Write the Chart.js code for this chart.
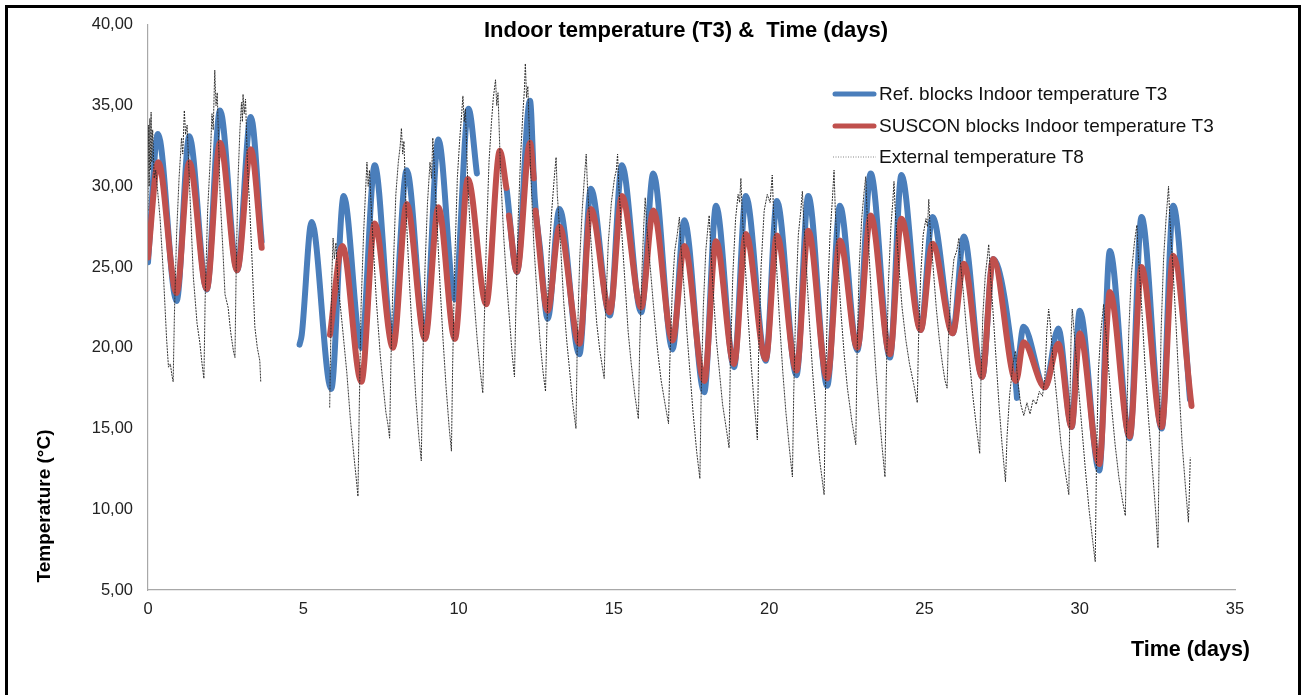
<!DOCTYPE html>
<html>
<head>
<meta charset="utf-8">
<script src="https://cdn.jsdelivr.net/npm/chart.js@4.4.1/dist/chart.umd.min.js"></script>
<style>
  html, body { margin: 0; padding: 0; background: #fff; overflow: hidden; }
  #frame { position: absolute; left: 5px; top: 5px; width: 1290px; height: 800px; border: 3px solid #000; box-sizing: content-box; }
  #c { position: absolute; left: 0; top: 0; }
</style>
</head>
<body>
<div id="frame"></div>
<canvas id="c" width="1303" height="695"></canvas>
<script>
// ---------- DATA (days, °C) ----------
const chartTitle = "Indoor temperature (T3) &  Time (days)";
const xTitle = "Time (days)";
const yTitle = "Temperature (°C)";
const seriesNames = ["Ref. blocks Indoor temperature T3", "SUSCON blocks Indoor temperature T3", "External temperature T8"];
const xTicks = [0, 5, 10, 15, 20, 25, 30, 35];
const yTicks = [5, 10, 15, 20, 25, 30, 35, 40];

// Ref. blocks indoor temperature T3 (blue) [day, temp]; null = gap
const refT3 = [
  [0.00,25.3],[0.32,33.25],[0.92,22.9],[1.33,33.1],[1.89,23.6],[2.32,34.7],[2.87,24.8],[3.31,34.3],[3.66,26.6],[4.20,null],
  [4.88,20.2],[4.95,20.8],[5.27,27.8],[5.90,17.45],[6.30,29.4],[6.87,20.0],[7.30,31.3],[7.87,20.4],[8.33,31.0],[8.92,20.6],
  [9.35,32.9],[9.88,23.0],[10.32,34.8],[10.59,30.8],[11.00,null],[11.55,29.8],[11.88,24.7],[12.30,35.3],[12.45,29.3],[12.62,26.2],
  [12.87,21.8],[13.25,28.6],[13.89,19.6],[14.26,29.85],[14.87,22.0],[15.26,31.3],[15.88,22.2],[16.27,30.8],[16.89,19.9],
  [17.27,27.9],[17.91,17.25],[18.29,28.8],[18.87,18.8],[19.25,29.4],[19.89,19.2],[20.25,29.1],[20.88,18.3],[21.26,29.4],
  [21.87,17.65],[22.28,28.8],[22.84,19.85],[23.27,30.8],[23.89,19.4],[24.26,30.7],[24.88,21.1],[25.26,28.1],[25.91,20.9],
  [26.27,26.9],[26.86,18.2],[27.21,25.5],[27.93,18.0],[27.98,16.9],[28.00,null],[28.03,19.3],[28.19,21.3],[28.88,17.55],
  [29.31,21.2],[29.74,15.1],[30.00,22.3],[30.63,12.4],[30.97,26.0],[31.61,14.4],[31.99,28.1],[32.64,15.0],[33.01,28.8],[33.55,16.8]
];

// SUSCON blocks indoor temperature T3 (red)
const susconT3 = [
  [0.00,25.6],[0.33,31.5],[0.92,23.4],[1.33,31.5],[1.89,23.65],[2.32,32.7],[2.87,24.8],[3.31,32.3],[3.66,26.2],[4.50,null],
  [5.86,20.8],[6.26,26.3],[6.87,17.9],[7.30,27.7],[7.89,20.0],[8.33,28.9],[8.92,20.55],[9.35,28.7],[9.88,20.55],[10.30,30.45],
  [10.89,22.7],[11.33,32.2],[11.54,29.9],[11.58,null],[11.62,28.2],[11.88,24.7],[12.30,32.7],[12.42,30.5],[12.45,null],[12.48,28.5],
  [12.87,22.3],[13.25,27.5],[13.89,20.25],[14.26,28.6],[14.87,22.2],[15.26,29.4],[15.88,22.5],[16.27,28.5],[16.89,20.45],
  [17.27,26.3],[17.91,17.95],[18.29,26.6],[18.87,19.0],[19.25,27.05],[19.89,19.3],[20.25,26.95],[20.88,18.6],[21.26,27.25],
  [21.87,18.1],[22.28,26.65],[22.84,20.0],[23.27,28.2],[23.89,19.6],[24.26,28.0],[24.88,21.1],[25.26,26.45],[25.91,20.9],
  [26.27,25.2],[26.86,18.2],[27.21,25.5],[27.95,17.95],[28.19,20.35],[28.88,17.55],[29.31,20.25],[29.74,15.1],[30.00,20.9],
  [30.63,12.8],[30.97,23.45],[31.61,14.5],[31.99,25.0],[32.64,15.1],[33.01,25.7],[33.60,16.4]
];

// External temperature T8 (thin dotted)
const externalT8 = [
  [0.00,28.5],[0.02,33.8],[0.04,30.0],[0.06,34.2],[0.08,31.0],[0.10,34.6],[0.12,31.5],[0.15,33.5],[0.20,30.5],[0.25,31.0],
  [0.39,28.0],[0.50,24.4],[0.60,20.5],[0.66,18.8],[0.72,19.0],[0.77,18.3],[0.81,17.9],
  [0.85,22.0],[0.92,27.0],[1.00,30.5],[1.08,33.0],[1.12,32.0],[1.17,34.7],[1.21,33.2],[1.26,33.8],
  [1.35,29.5],[1.46,24.4],[1.58,21.5],[1.67,20.3],[1.74,19.0],[1.80,18.1],
  [1.84,23.0],[1.92,28.5],[2.00,31.5],[2.06,34.5],[2.10,33.5],[2.15,37.2],[2.19,35.0],[2.23,35.8],
  [2.32,29.5],[2.40,26.5],[2.48,23.3],[2.58,22.5],[2.66,21.0],[2.75,19.8],[2.80,19.4],
  [2.84,25.0],[2.90,30.5],[2.96,33.5],[3.01,35.2],[3.04,34.0],[3.06,35.7],[3.10,34.5],[3.14,35.4],
  [3.20,31.5],[3.28,28.5],[3.36,25.0],[3.44,21.3],[3.52,20.0],[3.60,19.2],[3.63,17.9],[4.50,null],
  [5.85,16.3],[5.88,20.0],[5.92,24.5],[5.96,26.8],[6.00,25.5],[6.05,26.5],[6.12,24.0],
  [6.25,21.5],[6.40,18.5],[6.52,15.5],[6.62,13.5],[6.70,12.0],[6.76,10.8],
  [6.80,16.0],[6.86,22.5],[6.94,27.0],[7.00,29.5],[7.05,31.5],[7.09,30.0],[7.13,31.0],
  [7.22,27.5],[7.35,23.0],[7.48,19.5],[7.58,17.5],[7.66,16.0],[7.73,15.2],[7.78,14.4],
  [7.82,19.0],[7.90,25.0],[7.98,29.5],[8.06,31.5],[8.12,32.5],[8.16,33.6],[8.20,32.0],[8.24,32.8],
  [8.32,28.0],[8.42,24.0],[8.52,20.5],[8.62,17.0],[8.72,14.5],[8.80,13.0],
  [8.84,18.5],[8.92,25.0],[9.00,29.0],[9.08,31.5],[9.13,30.5],[9.17,33.0],[9.21,31.5],
  [9.30,28.0],[9.40,24.0],[9.50,20.5],[9.60,17.5],[9.70,15.0],[9.77,13.6],
  [9.81,19.0],[9.88,25.5],[9.96,30.5],[10.04,33.0],[10.10,34.5],[10.14,35.6],[10.18,34.0],[10.22,34.8],
  [10.30,30.0],[10.40,26.5],[10.50,23.0],[10.60,20.5],[10.70,18.5],[10.78,17.2],
  [10.82,21.0],[10.90,27.0],[10.98,31.5],[11.06,34.0],[11.12,35.5],[11.19,36.6],[11.23,35.0],[11.27,35.8],
  [11.35,31.0],[11.45,27.0],[11.55,24.0],[11.65,21.5],[11.73,19.5],[11.80,18.2],
  [11.84,22.0],[11.92,28.0],[12.00,32.0],[12.07,34.5],[12.12,36.0],[12.15,37.6],[12.19,35.5],[12.23,36.2],
  [12.32,31.0],[12.42,26.5],[12.52,23.5],[12.62,20.5],[12.72,18.5],[12.80,17.3],
  [12.84,21.0],[12.92,26.0],[13.00,28.5],[13.08,30.5],[13.14,31.8],[13.18,29.5],
  [13.28,26.5],[13.38,23.0],[13.48,20.5],[13.58,18.5],[13.68,16.5],[13.78,15.0],
  [13.82,20.0],[13.90,25.5],[13.98,28.5],[14.05,30.5],[14.11,32.0],[14.15,30.0],
  [14.25,27.0],[14.35,24.0],[14.45,21.5],[14.55,19.8],[14.63,18.8],[14.69,18.1],
  [14.73,22.0],[14.82,26.5],[14.92,29.0],[15.02,30.5],[15.08,31.0],[15.12,32.0],[15.16,30.0],
  [15.26,27.0],[15.36,24.0],[15.46,21.0],[15.56,19.0],[15.68,17.0],[15.79,15.6],
  [15.83,20.0],[15.90,24.5],[15.96,27.5],[16.01,29.3],[16.06,27.5],
  [16.15,25.5],[16.28,22.5],[16.40,20.0],[16.52,18.0],[16.65,16.5],[16.76,15.3],
  [16.80,19.0],[16.88,23.5],[16.96,26.0],[17.04,27.0],[17.11,28.1],[17.15,26.5],
  [17.25,24.0],[17.35,21.0],[17.45,18.5],[17.55,16.0],[17.67,13.5],[17.77,11.9],
  [17.81,17.0],[17.88,22.5],[17.96,26.0],[18.03,27.5],[18.07,28.2],[18.11,26.5],
  [18.20,23.5],[18.30,20.5],[18.40,18.5],[18.50,16.5],[18.62,15.0],[18.71,13.8],
  [18.75,19.0],[18.83,24.5],[18.92,28.0],[19.00,29.5],[19.05,29.0],[19.09,30.5],[19.13,28.5],
  [19.22,25.5],[19.32,22.0],[19.42,19.0],[19.50,17.0],[19.57,15.5],[19.62,14.3],
  [19.66,19.5],[19.74,25.0],[19.84,28.5],[19.94,29.5],[20.03,29.0],[20.10,30.7],[20.14,28.5],
  [20.24,25.0],[20.34,21.5],[20.44,18.5],[20.54,16.0],[20.65,13.8],[20.75,12.0],
  [20.79,17.0],[20.86,23.0],[20.94,27.0],[21.02,28.5],[21.07,29.7],[21.11,28.0],
  [21.20,25.0],[21.30,21.5],[21.40,18.5],[21.50,16.0],[21.63,13.0],[21.77,10.9],
  [21.81,17.0],[21.88,23.0],[21.96,27.0],[22.03,29.0],[22.09,31.0],[22.13,28.5],
  [22.22,25.0],[22.32,22.0],[22.42,19.5],[22.52,17.5],[22.66,15.5],[22.79,14.0],
  [22.83,19.5],[22.90,25.0],[22.98,28.0],[23.05,29.5],[23.11,30.6],[23.15,28.5],
  [23.24,25.0],[23.34,21.5],[23.44,18.5],[23.54,16.0],[23.64,13.8],[23.73,12.0],
  [23.77,18.0],[23.84,24.0],[23.92,27.5],[23.98,29.0],[24.02,30.3],[24.06,28.5],
  [24.16,25.5],[24.28,22.5],[24.40,20.5],[24.52,19.0],[24.65,17.8],[24.77,16.6],
  [24.81,20.5],[24.88,24.5],[24.96,27.0],[25.05,28.0],[25.10,27.5],[25.14,29.2],[25.18,27.5],
  [25.28,25.0],[25.38,22.5],[25.48,20.5],[25.58,19.0],[25.66,18.0],[25.73,17.5],
  [25.77,20.5],[25.85,23.5],[25.95,25.5],[26.04,26.0],[26.11,26.8],[26.15,25.5],
  [26.25,23.5],[26.36,21.0],[26.46,19.0],[26.56,17.0],[26.68,15.0],[26.78,13.45],
  [26.82,18.0],[26.88,22.0],[26.96,24.5],[27.02,25.5],[27.07,26.4],[27.11,25.0],
  [27.20,22.5],[27.30,19.5],[27.40,16.5],[27.50,14.0],[27.61,11.7],
  [27.66,14.5],[27.74,17.0],[27.85,19.0],[27.93,19.8],[28.00,18.0],
  [28.10,16.5],[28.20,15.8],[28.30,16.6],[28.40,15.9],[28.50,16.8],[28.60,16.5],[28.70,17.3],[28.80,17.0],[28.88,18.2],
  [28.94,21.0],[29.00,22.4],[29.05,21.5],
  [29.15,19.0],[29.28,16.5],[29.40,14.0],[29.52,12.5],[29.65,10.9],
  [29.68,16.0],[29.72,20.5],[29.76,22.4],[29.82,21.0],
  [29.92,18.5],[30.05,15.5],[30.18,12.5],[30.30,10.0],[30.42,8.0],[30.50,6.75],
  [30.54,13.0],[30.60,18.5],[30.68,21.0],[30.77,22.7],[30.82,21.5],
  [30.92,19.0],[31.02,16.5],[31.14,14.0],[31.26,12.0],[31.38,10.5],[31.47,9.6],
  [31.51,15.0],[31.58,21.0],[31.66,24.5],[31.76,26.5],[31.84,27.6],[31.88,26.0],
  [31.98,23.0],[32.10,19.0],[32.22,15.5],[32.34,12.5],[32.44,10.0],[32.52,7.6],
  [32.56,14.0],[32.62,21.0],[32.70,25.5],[32.78,28.0],[32.86,30.0],[32.90,28.0],
  [33.00,25.0],[33.10,21.5],[33.20,17.5],[33.30,14.0],[33.40,11.5],[33.50,9.2],
  [33.53,11.0],[33.56,13.2]
];

// ---------- STYLE ----------
const FONT = '"Liberation Sans", Arial, Helvetica, sans-serif';
const BLUE = '#4A7EBB';
const RED = '#C0504D';
const GREY = 'rgba(40,40,40,0.95)';

const toXY = arr => arr.map(p => ({ x: p[0], y: p[1] }));

const overlay = {
  id: 'overlay',
  afterDraw(chart) {
    const ctx = chart.ctx;
    ctx.save();
    ctx.fillStyle = '#000';
    ctx.textBaseline = 'middle';
    // chart title
    ctx.textAlign = 'center';
    ctx.font = 'bold 22px ' + FONT;
    ctx.fillText(chartTitle, 686, 31);
    // x axis title
    ctx.textAlign = 'right';
    ctx.font = 'bold 21.5px ' + FONT;
    ctx.fillText(xTitle, 1250, 650);
    // y axis title
    ctx.save();
    ctx.translate(45, 506);
    ctx.rotate(-Math.PI / 2);
    ctx.textAlign = 'center';
    ctx.font = 'bold 19px ' + FONT;
    ctx.fillText(yTitle, 0, 0);
    ctx.restore();
    // legend
    const items = chart.data.datasets;
    const rowsY = [94, 126, 157];
    ctx.font = '19px ' + FONT;
    ctx.textAlign = 'left';
    items.forEach((ds, i) => {
      const y = rowsY[i];
      ctx.save();
      ctx.strokeStyle = i === 2 ? 'rgba(120,120,120,0.9)' : ds.borderColor;
      ctx.lineWidth = i === 2 ? 1 : 5;
      ctx.lineCap = i === 2 ? 'butt' : 'round';
      ctx.setLineDash(i === 2 ? [1, 1.5] : []);
      ctx.beginPath();
      ctx.moveTo(i === 2 ? 833 : 835, y);
      ctx.lineTo(i === 2 ? 876 : 874, y);
      ctx.stroke();
      ctx.restore();
      ctx.fillStyle = '#111';
      ctx.fillText(ds.label, 879, y + 1);
    });
    ctx.restore();
  }
};

new Chart(document.getElementById('c'), {
  type: 'line',
  data: {
    datasets: [
      { label: seriesNames[0], data: toXY(refT3), borderColor: BLUE, borderWidth: 6,
        cubicInterpolationMode: 'monotone', pointRadius: 0, order: 3, borderCapStyle: 'round', borderJoinStyle: 'round' },
      { label: seriesNames[1], data: toXY(susconT3), borderColor: RED, borderWidth: 6,
        cubicInterpolationMode: 'monotone', pointRadius: 0, order: 2, borderCapStyle: 'round', borderJoinStyle: 'round' },
      { label: seriesNames[2], data: toXY(externalT8), borderColor: GREY, borderWidth: 1,
        borderDash: [2, 1], tension: 0, pointRadius: 0, order: 1 }
    ]
  },
  options: {
    responsive: false,
    animation: false,
    events: [],
    layout: { padding: { left: 0, right: 68, top: 24, bottom: 0 } },
    plugins: { legend: { display: false }, title: { display: false }, tooltip: { enabled: false } },
    scales: {
      x: {
        type: 'linear', min: 0, max: 35,
        afterFit: s => { s.height = 105; },
        afterBuildTicks: s => { s.ticks = xTicks.map(v => ({ value: v })); },
        grid: { display: false, drawTicks: false },
        border: { display: true, color: '#a8a8a8', width: 1.2 },
        ticks: { padding: 10, color: '#222', font: { family: FONT, size: 16.5 }, maxRotation: 0, autoSkip: false }
      },
      y: {
        type: 'linear', min: 5, max: 40,
        afterFit: s => { s.width = 148; },
        afterBuildTicks: s => { s.ticks = yTicks.map(v => ({ value: v })); },
        grid: { display: false, drawTicks: false },
        border: { display: true, color: '#a8a8a8', width: 1.2 },
        ticks: { padding: 15, color: '#222', font: { family: FONT, size: 16.5 },
                 callback: v => v.toFixed(2).replace('.', ',') }
      }
    }
  },
  plugins: [overlay]
});
</script>
</body>
</html>
